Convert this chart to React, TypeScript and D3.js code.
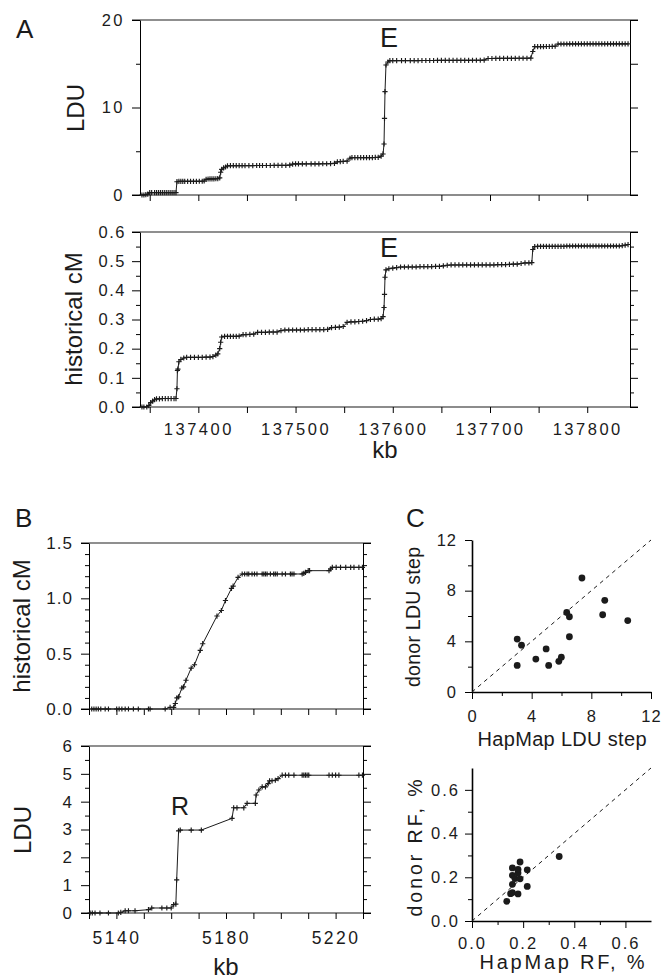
import React, { useEffect, useRef } from 'react'
import * as d3 from 'd3'

const FONT = "'Liberation Sans', Arial, Helvetica, sans-serif"
const INK = '#1b1b1b'

type Pt = [number, number]

// ---- panel A : kb vs LDU and historical cM ----
const aLdu: Pt[] = [
  [137342, 0], [137344, 0], [137346, 0.05], [137348, 0.1], [137350, 0.27], [137352, 0.27], [137355, 0.28], [137357, 0.28],
  [137359, 0.28], [137361, 0.28], [137363, 0.28], [137365, 0.28], [137367, 0.28], [137369, 0.28], [137371, 0.28], [137373, 0.28],
  [137375, 0.28], [137377, 0.28], [137378, 1.52], [137380, 1.55], [137382, 1.55], [137384, 1.55], [137386, 1.56], [137389, 1.56],
  [137392, 1.56], [137395, 1.56], [137398, 1.56], [137401, 1.57], [137404, 1.57], [137406, 1.6], [137408, 1.78], [137410, 1.83],
  [137412, 1.84], [137414, 1.84], [137416, 1.85], [137418, 1.86], [137420, 1.88], [137422, 1.95], [137423, 2.6], [137424, 2.93],
  [137426, 3.1], [137428, 3.2], [137430, 3.33], [137433, 3.35], [137436, 3.35], [137439, 3.35], [137442, 3.36], [137445, 3.36],
  [137448, 3.36], [137452, 3.36], [137456, 3.36], [137460, 3.37], [137463, 3.37], [137466, 3.37], [137470, 3.37], [137474, 3.37],
  [137478, 3.38], [137482, 3.38], [137486, 3.38], [137490, 3.38], [137494, 3.42], [137497, 3.54], [137500, 3.55], [137503, 3.55],
  [137507, 3.55], [137511, 3.56], [137516, 3.56], [137520, 3.56], [137524, 3.56], [137528, 3.57], [137532, 3.57], [137536, 3.58],
  [137540, 3.62], [137543, 3.8], [137546, 3.82], [137549, 3.84], [137553, 3.88], [137556, 4.2], [137558, 4.27], [137561, 4.28],
  [137564, 4.28], [137567, 4.28], [137570, 4.28], [137573, 4.28], [137576, 4.28], [137579, 4.28], [137582, 4.29], [137585, 4.3],
  [137588, 4.45], [137590, 4.69], [137591, 5.83], [137591.5, 8.76], [137592, 11.81], [137593, 14.86], [137595, 15.2], [137597, 15.35],
  [137600, 15.35], [137604, 15.35], [137609, 15.36], [137613, 15.36], [137618, 15.36], [137622, 15.36], [137626, 15.36], [137630, 15.37],
  [137634, 15.37], [137638, 15.37], [137642, 15.37], [137646, 15.38], [137650, 15.38], [137654, 15.38], [137658, 15.38], [137662, 15.38],
  [137666, 15.39], [137670, 15.39], [137674, 15.39], [137678, 15.39], [137682, 15.4], [137686, 15.4], [137690, 15.4], [137694, 15.42],
  [137698, 15.6], [137702, 15.6], [137706, 15.61], [137710, 15.61], [137714, 15.62], [137718, 15.62], [137722, 15.62], [137726, 15.62],
  [137730, 15.63], [137734, 15.63], [137738, 15.63], [137742, 15.65], [137744, 16.4], [137746, 16.95], [137749, 16.95], [137752, 16.96],
  [137755, 16.96], [137758, 16.97], [137761, 16.97], [137764, 16.98], [137767, 17.0], [137770, 17.26], [137773, 17.26], [137776, 17.26],
  [137779, 17.26], [137782, 17.27], [137785, 17.27], [137788, 17.27], [137791, 17.27], [137794, 17.27], [137797, 17.27], [137800, 17.28],
  [137803, 17.28], [137806, 17.28], [137809, 17.28], [137812, 17.28], [137815, 17.28], [137818, 17.28], [137821, 17.28], [137824, 17.28],
  [137827, 17.28], [137830, 17.28], [137833, 17.28], [137836, 17.28], [137839, 17.28], [137842, 17.28],
]

const aCm: Pt[] = [
  [137342, 0], [137344, 0], [137347, 0], [137349, 0.005], [137351, 0.015], [137353, 0.02], [137355, 0.025], [137357, 0.028],
  [137360, 0.028], [137363, 0.029], [137366, 0.029], [137369, 0.029], [137372, 0.029], [137375, 0.029], [137377, 0.029], [137378, 0.0625],
  [137378.5, 0.125], [137379, 0.13], [137380, 0.155], [137382, 0.163], [137385, 0.168], [137388, 0.17], [137392, 0.17], [137396, 0.17],
  [137400, 0.17], [137404, 0.17], [137408, 0.171], [137412, 0.171], [137415, 0.173], [137418, 0.178], [137420, 0.182], [137422, 0.2],
  [137423, 0.222], [137424, 0.24], [137427, 0.242], [137430, 0.242], [137433, 0.242], [137436, 0.242], [137439, 0.242], [137442, 0.243],
  [137446, 0.248], [137449, 0.248], [137453, 0.249], [137457, 0.25], [137461, 0.256], [137465, 0.256], [137469, 0.256], [137473, 0.257],
  [137477, 0.257], [137481, 0.257], [137485, 0.262], [137489, 0.264], [137493, 0.264], [137497, 0.264], [137501, 0.264], [137505, 0.264],
  [137509, 0.264], [137513, 0.265], [137517, 0.265], [137521, 0.265], [137525, 0.265], [137529, 0.265], [137533, 0.266], [137537, 0.272],
  [137541, 0.273], [137545, 0.274], [137549, 0.276], [137553, 0.29], [137557, 0.292], [137561, 0.292], [137565, 0.293], [137569, 0.294],
  [137573, 0.296], [137577, 0.3], [137581, 0.301], [137585, 0.301], [137588, 0.303], [137590, 0.31], [137591, 0.341], [137591.5, 0.386],
  [137592, 0.445], [137593, 0.47], [137596, 0.474], [137600, 0.476], [137604, 0.478], [137608, 0.48], [137612, 0.48], [137616, 0.48],
  [137620, 0.48], [137624, 0.48], [137628, 0.481], [137632, 0.481], [137636, 0.481], [137640, 0.481], [137644, 0.482], [137648, 0.482],
  [137652, 0.484], [137656, 0.486], [137660, 0.487], [137664, 0.487], [137668, 0.487], [137672, 0.487], [137676, 0.487], [137680, 0.487],
  [137684, 0.487], [137688, 0.487], [137692, 0.487], [137696, 0.487], [137700, 0.487], [137704, 0.487], [137708, 0.488], [137712, 0.488],
  [137716, 0.488], [137720, 0.489], [137724, 0.49], [137728, 0.49], [137732, 0.492], [137736, 0.494], [137740, 0.494], [137743, 0.495],
  [137744, 0.54], [137746, 0.55], [137749, 0.551], [137752, 0.551], [137755, 0.551], [137758, 0.551], [137761, 0.551], [137764, 0.551],
  [137767, 0.551], [137770, 0.551], [137773, 0.551], [137776, 0.551], [137779, 0.552], [137782, 0.552], [137785, 0.552], [137788, 0.552],
  [137791, 0.552], [137794, 0.552], [137797, 0.552], [137800, 0.552], [137803, 0.552], [137806, 0.552], [137809, 0.552], [137812, 0.552],
  [137815, 0.552], [137818, 0.552], [137821, 0.552], [137824, 0.552], [137827, 0.552], [137830, 0.552], [137833, 0.552], [137836, 0.553],
  [137839, 0.555], [137842, 0.557],
]

const aKbTicks = [137350, 137400, 137450, 137500, 137550, 137600, 137650, 137700, 137750, 137800]
const aKbLabels = [137400, 137500, 137600, 137700, 137800]
const aLduTicks = [0, 10, 20]
const aLduMinor = [5, 15]
const aCmTicks = [0, 0.1, 0.2, 0.3, 0.4, 0.5, 0.6]
const aCmMinor = [0.05, 0.15, 0.25, 0.35, 0.45, 0.55]

// ---- panel B : kb vs historical cM and LDU ----
const bCm: Pt[] = [
  [5131.0, 0], [5131.8, 0], [5132.6, 0], [5133.4, 0], [5134.3, 0], [5135.9, 0], [5137.1, 0], [5140.1, 0],
  [5141.0, 0], [5142.0, 0], [5143.2, 0], [5144.4, 0], [5146.2, 0], [5148.0, 0], [5151.7, 0], [5152.3, 0],
  [5157.8, 0], [5159.6, 0.015], [5160.9, 0.015], [5161.5, 0.05], [5162.1, 0.1], [5162.7, 0.11], [5163.9, 0.19], [5164.5, 0.2],
  [5165.4, 0.26], [5167.3, 0.37], [5168.5, 0.4], [5170.6, 0.53], [5171.5, 0.59], [5176.7, 0.84], [5178.3, 0.89], [5179.8, 0.98],
  [5182.0, 1.09], [5182.6, 1.11], [5184.4, 1.19], [5185.9, 1.22], [5186.8, 1.22], [5187.7, 1.22], [5188.3, 1.22], [5189.5, 1.22],
  [5190.4, 1.22], [5191.3, 1.22], [5193.2, 1.22], [5193.8, 1.22], [5194.4, 1.22], [5195.0, 1.22], [5196.2, 1.22], [5197.4, 1.22],
  [5198.0, 1.22], [5198.7, 1.22], [5200.5, 1.22], [5201.7, 1.22], [5203.5, 1.22], [5204.1, 1.22], [5204.8, 1.22], [5207.8, 1.22],
  [5208.4, 1.225], [5209.0, 1.235], [5210.0, 1.25], [5210.5, 1.25], [5217.6, 1.25], [5218.2, 1.265], [5218.8, 1.28], [5220.2, 1.28],
  [5221.8, 1.28], [5223.7, 1.28], [5225.5, 1.28], [5226.7, 1.28], [5228.5, 1.28], [5229.8, 1.28],
]

const bLdu: Pt[] = [
  [5130.4, 0], [5131.2, 0], [5132.2, 0], [5134.0, 0], [5137.1, 0], [5140.7, 0], [5141.6, 0.02], [5143.2, 0.08],
  [5144.4, 0.08], [5146.8, 0.08], [5151.7, 0.12], [5152.9, 0.18], [5156.6, 0.18], [5158.4, 0.18], [5160.0, 0.18], [5160.9, 0.3],
  [5161.7, 0.32], [5162.0, 1.19], [5162.7, 2.95], [5163.3, 2.98], [5167.3, 2.98], [5171.0, 2.98], [5182.2, 3.4], [5182.8, 3.78],
  [5184.0, 3.78], [5186.5, 3.78], [5187.7, 3.94], [5190.7, 3.94], [5191.0, 4.24], [5192.0, 4.42], [5193.2, 4.53], [5194.4, 4.53],
  [5195.4, 4.65], [5195.9, 4.75], [5196.8, 4.75], [5198.0, 4.77], [5199.0, 4.83], [5200.5, 4.95], [5201.7, 4.95], [5202.9, 4.95],
  [5204.8, 4.95], [5207.8, 4.95], [5208.4, 4.95], [5209.0, 4.95], [5209.6, 4.95], [5210.2, 4.95], [5217.6, 4.95], [5218.8, 4.95],
  [5220.0, 4.95], [5221.2, 4.95], [5228.5, 4.95], [5229.8, 4.95],
]

const bKbTicks = [5130, 5140, 5150, 5160, 5170, 5180, 5190, 5200, 5210, 5220, 5230]
const bKbLabels = [5140, 5180, 5220]
const bCmTicks = [0, 0.5, 1.0, 1.5]
const bCmMinor = [0.1, 0.2, 0.3, 0.4, 0.6, 0.7, 0.8, 0.9, 1.1, 1.2, 1.3, 1.4]
const bLduTicks = [0, 1, 2, 3, 4, 5, 6]
const bLduMinor = [0.5, 1.5, 2.5, 3.5, 4.5, 5.5]

// ---- panel C : HapMap vs donor ----
const cStepHapmap = [3.03, 3.32, 3.03, 4.28, 4.97, 5.14, 5.82, 5.99, 6.35, 6.53, 6.53, 7.37, 8.76, 8.9, 10.44]
const cStepDonor = [4.18, 3.7, 2.1, 2.6, 3.4, 2.1, 2.42, 2.75, 6.28, 5.94, 4.36, 9.0, 6.1, 7.24, 5.64]
const cRfHapmap = [0.136, 0.151, 0.158, 0.158, 0.158, 0.158, 0.168, 0.18, 0.18, 0.18, 0.188, 0.188, 0.216, 0.216, 0.341]
const cRfDonor = [0.09, 0.125, 0.13, 0.168, 0.209, 0.243, 0.194, 0.124, 0.22, 0.236, 0.27, 0.193, 0.234, 0.158, 0.295]
const cStepTicks = [0, 4, 8, 12]
const cStepMinor = [2, 6, 10]
const cRfTicks = [0, 0.2, 0.4, 0.6]
const cRfMinor = [0.1, 0.3, 0.5]

const styleText = (sel: any, size: number, spacing = 0) =>
  sel.attr('font-family', FONT).attr('font-size', size).attr('fill', INK).attr('letter-spacing', spacing)

function linePanel(svg: any, o: any) {
  const x = d3.scaleLinear().domain(o.xDomain).range([o.left, o.right])
  const y = d3.scaleLinear().domain(o.yDomain).range([o.bottom, o.top])
  const g = svg.append('g')
  const xLabels: number[] = o.xLabels ?? []

  // top / bottom rules run a little past the side axes, as in the original
  g.append('line').attr('x1', o.left - 8).attr('x2', o.right + 8).attr('y1', o.top).attr('y2', o.top)
    .attr('stroke', '#6a6a6a').attr('stroke-width', 1.5)
  g.append('line').attr('x1', o.left - 8).attr('x2', o.right + 8).attr('y1', o.bottom).attr('y2', o.bottom)
    .attr('stroke', INK).attr('stroke-width', 1.2)

  const left = g.append('g').attr('transform', `translate(${o.left},0)`)
    .call(d3.axisLeft(y).tickValues(o.yTicks).tickSize(8).tickSizeOuter(0).tickPadding(o.yPad).tickFormat(o.yFmt))
  styleText(left.selectAll('text'), o.yFont, o.ySpacing)
  g.append('g').attr('transform', `translate(${o.left},0)`)
    .call(d3.axisLeft(y).tickValues(o.yMinor).tickSize(4).tickFormat(() => ''))
    .select('.domain').remove()

  g.append('g').attr('transform', `translate(${o.right},0)`)
    .call(d3.axisRight(y).tickValues(o.yTicks).tickSize(8).tickSizeOuter(0).tickFormat(() => ''))
  g.append('g').attr('transform', `translate(${o.right},0)`)
    .call(d3.axisRight(y).tickValues(o.yMinor).tickSize(o.rightMinor ?? 4).tickFormat(() => ''))
    .select('.domain').remove()

  const bottom = g.append('g').attr('transform', `translate(0,${o.bottom})`)
    .call(d3.axisBottom(x).tickValues(o.xTicks).tickSize(6).tickPadding(o.xPad ?? 10)
      .tickFormat((d: any) => (xLabels.includes(+d) ? String(d) : '')))
  bottom.select('.domain').remove()
  styleText(bottom.selectAll('text'), o.xFont, o.xSpacing)

  const line = d3.line<Pt>().x(d => x(d[0])).y(d => y(d[1]))
  g.append('path').datum(o.data).attr('d', line).attr('fill', 'none').attr('stroke', INK).attr('stroke-width', 1)
  g.append('g').selectAll('path').data(o.data).join('path')
    .attr('transform', (d: Pt) => `translate(${x(d[0])},${y(d[1])})`)
    .attr('d', 'M-2.6,0H2.6M0,-2.6V2.6')
    .attr('stroke', INK).attr('stroke-width', 1.15)
}

function scatterPanel(svg: any, o: any) {
  const x = d3.scaleLinear().domain([0, o.max]).range([o.left, o.right])
  const y = d3.scaleLinear().domain([0, o.max]).range([o.bottom, o.top])
  const g = svg.append('g')

  const left = g.append('g').attr('transform', `translate(${o.left},0)`)
    .call(d3.axisLeft(y).tickValues(o.ticks).tickSize(7).tickSizeOuter(0).tickPadding(o.yPad).tickFormat(o.fmt))
  left.select('.domain').attr('stroke-width', 1.6)
  styleText(left.selectAll('text'), 16.5, o.spacing)
  g.append('g').attr('transform', `translate(${o.left},0)`)
    .call(d3.axisLeft(y).tickValues(o.minor).tickSize(4).tickFormat(() => ''))
    .select('.domain').remove()

  const bottom = g.append('g').attr('transform', `translate(0,${o.bottom})`)
    .call(d3.axisBottom(x).tickValues(o.ticks).tickSize(7).tickSizeOuter(0).tickPadding(o.xPad).tickFormat(o.fmt))
  bottom.select('.domain').attr('stroke-width', 1.6)
  styleText(bottom.selectAll('text'), 16.5, o.spacing)
  g.append('g').attr('transform', `translate(0,${o.bottom})`)
    .call(d3.axisBottom(x).tickValues(o.minor).tickSize(4).tickFormat(() => ''))
    .select('.domain').remove()

  g.append('line').attr('x1', x(0)).attr('y1', y(0)).attr('x2', x(o.max)).attr('y2', y(o.max))
    .attr('stroke', INK).attr('stroke-width', 1).attr('stroke-dasharray', '4,4')

  g.append('g').selectAll('circle').data(o.xs).join('circle')
    .attr('cx', (d: number) => x(d)).attr('cy', (_: number, i: number) => y(o.ys[i]))
    .attr('r', 3.4).attr('fill', INK)
}

function label(svg: any, txt: string, x: number, y: number, size: number, opts: any = {}) {
  const t = svg.append('text').attr('x', x).attr('y', y).text(txt)
    .attr('text-anchor', opts.anchor ?? 'start')
  styleText(t, size, opts.spacing ?? 0)
  if (opts.rotate) t.attr('transform', `rotate(-90,${x},${y})`)
  if (opts.length) t.attr('textLength', opts.length).attr('lengthAdjust', 'spacing')
  return t
}

export default function App() {
  const ref = useRef<SVGSVGElement>(null)

  useEffect(() => {
    const svg = d3.select(ref.current)
    svg.selectAll('*').remove()

    const kbA = { xDomain: [137340, 137844], left: 140, right: 630, xTicks: aKbTicks, xPad: 10, xFont: 16.5, xSpacing: 2.5 }
    linePanel(svg, { ...kbA, data: aLdu, yDomain: [0, 20], top: 20, bottom: 195, yTicks: aLduTicks, yMinor: aLduMinor,
      yFmt: d3.format('d'), yPad: 7, yFont: 16.5, ySpacing: 2.5, rightMinor: 8 })
    linePanel(svg, { ...kbA, xLabels: aKbLabels, data: aCm, yDomain: [0, 0.6], top: 232, bottom: 407, yTicks: aCmTicks,
      yMinor: aCmMinor, yFmt: d3.format('.1f'), yPad: 6, yFont: 16.5, ySpacing: 1.5 })

    const kbB = { xDomain: [5130, 5230], left: 89, right: 363, xTicks: bKbTicks, xPad: 13, xFont: 17.5, xSpacing: 2.5 }
    linePanel(svg, { ...kbB, data: bCm, yDomain: [0, 1.5], top: 543, bottom: 709, yTicks: bCmTicks, yMinor: bCmMinor,
      yFmt: d3.format('.1f'), yPad: 8, yFont: 17, ySpacing: 1 })
    linePanel(svg, { ...kbB, xLabels: bKbLabels, data: bLdu, yDomain: [0, 6], top: 746, bottom: 913, yTicks: bLduTicks,
      yMinor: bLduMinor, yFmt: d3.format('d'), yPad: 8, yFont: 17, ySpacing: 1 })

    scatterPanel(svg, { max: 12, left: 472, right: 651, top: 540, bottom: 692, ticks: cStepTicks, minor: cStepMinor,
      fmt: d3.format('d'), xs: cStepHapmap, ys: cStepDonor, yPad: 8, xPad: 11, spacing: 1 })
    scatterPanel(svg, { max: 0.7, left: 472, right: 651, top: 768, bottom: 921, ticks: cRfTicks, minor: cRfMinor,
      fmt: d3.format('.1f'), xs: cRfHapmap, ys: cRfDonor, yPad: 5, xPad: 9, spacing: 2 })

    // panel letters
    label(svg, 'A', 16, 38, 26)
    label(svg, 'B', 15, 527, 26)
    label(svg, 'C', 406, 527, 26)

    // step annotations
    label(svg, 'E', 380, 47, 27)
    label(svg, 'E', 380, 257, 27)
    label(svg, 'R', 171, 815, 25)

    // axis titles
    label(svg, 'LDU', 84, 108, 24, { anchor: 'middle', rotate: true })
    label(svg, 'historical cM', 82, 319, 24, { anchor: 'middle', rotate: true })
    label(svg, 'kb', 385, 458, 24, { anchor: 'middle' })
    label(svg, 'historical cM', 30, 626, 24, { anchor: 'middle', rotate: true })
    label(svg, 'LDU', 31, 830, 24, { anchor: 'middle', rotate: true })
    label(svg, 'kb', 226, 975, 24, { anchor: 'middle' })
    label(svg, 'donor LDU step', 420, 617, 19.5, { anchor: 'middle', rotate: true, length: 140 })
    label(svg, 'HapMap LDU step', 562, 746, 20, { anchor: 'middle', length: 169 })
    label(svg, 'donor RF, %', 422, 848, 19.5, { anchor: 'middle', rotate: true, length: 137 })
    label(svg, 'HapMap RF, %', 562, 969, 20, { anchor: 'middle', length: 165 })
  }, [])

  return (
    <svg ref={ref} width={663} height={980} style={{ position: 'absolute', left: 0, top: 0, background: '#fff' }} />
  )
}
